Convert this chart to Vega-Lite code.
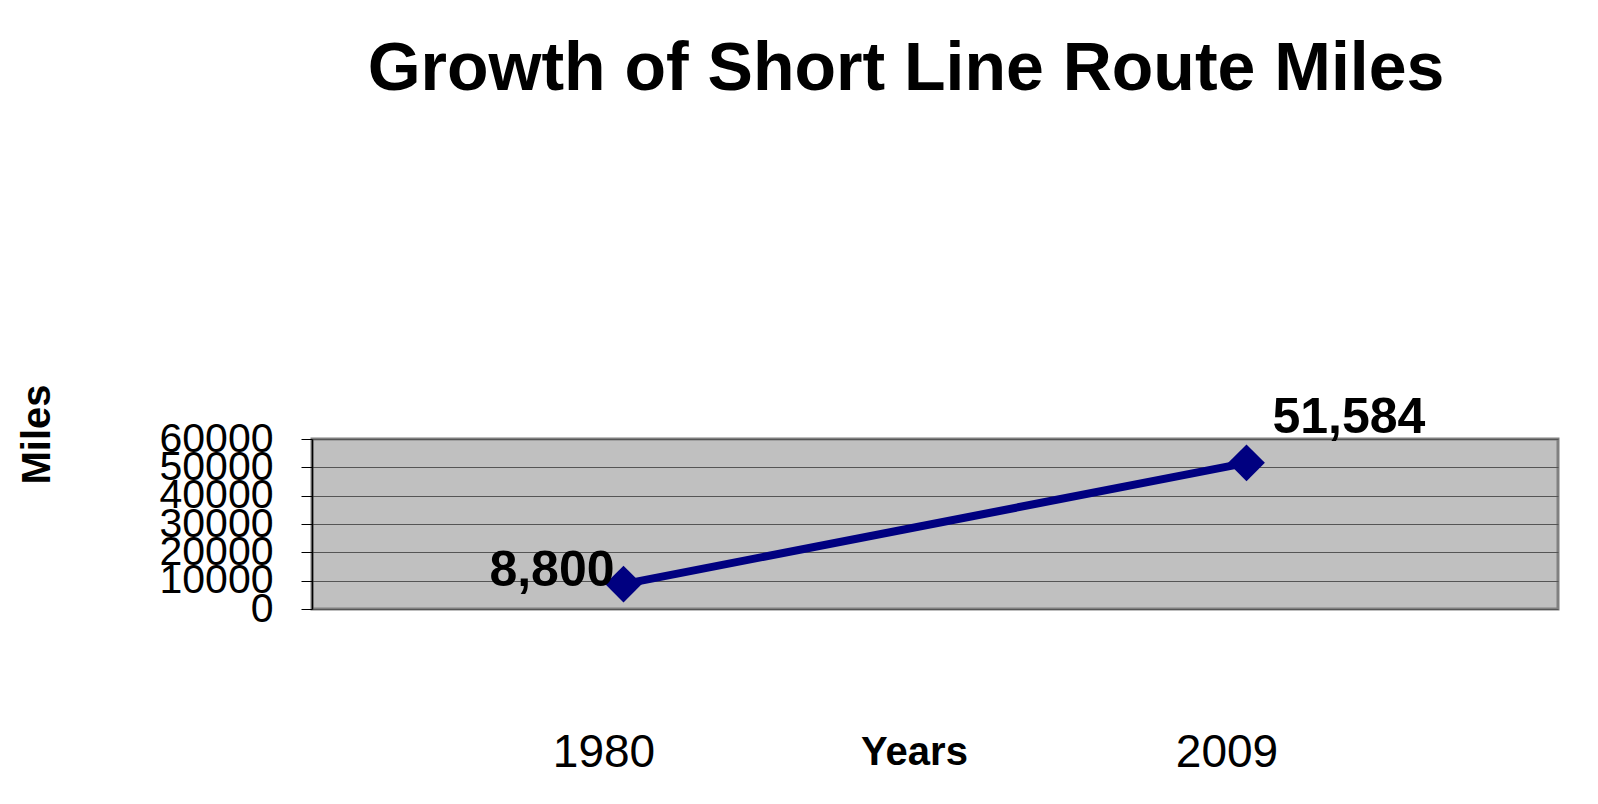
{
  "$schema": "https://vega.github.io/schema/vega-lite/v6.json",
  "autosize": "none",
  "width": 1246,
  "height": 170,
  "padding": {"left": 312, "top": 439, "right": 40, "bottom": 195},
  "background": "white",
  "config": {
    "font": "Liberation Sans",
    "view": {"fill": "#c0c0c0", "stroke": "#808080", "strokeWidth": 3}
  },
  "title": {
    "text": "Growth of Short Line Route Miles",
    "fontSize": 68,
    "fontWeight": "bold",
    "color": "black",
    "anchor": "middle",
    "dx": -29,
    "offset": 280
  },
  "data": {
    "values": [
      {"year": "1980", "miles": 8800},
      {"year": "2009", "miles": 51584}
    ]
  },
  "encoding": {
    "x": {
      "field": "year",
      "type": "ordinal",
      "scale": {"type": "point", "padding": 0.5},
      "axis": {
        "title": "Years",
        "titleFontSize": 40,
        "titleFontWeight": "bold",
        "titleColor": "black",
        "titleX": 602,
        "titleY": 155,
        "titleAlign": "center",
        "titleBaseline": "alphabetic",
        "labelAngle": 0,
        "labelFontSize": 46,
        "labelColor": "black",
        "labelBaseline": "alphabetic",
        "labelPadding": 157,
        "labelOffset": -20,
        "ticks": false,
        "domain": false,
        "grid": false
      }
    },
    "y": {
      "field": "miles",
      "type": "quantitative",
      "scale": {"domain": [0, 60000], "nice": false},
      "axis": {
        "title": "Miles",
        "titleFontSize": 40,
        "titleFontWeight": "bold",
        "titleColor": "black",
        "titleX": -275,
        "titleY": -5,
        "titleAlign": "center",
        "titleBaseline": "middle",
        "titleAngle": -90,
        "values": [0, 10000, 20000, 30000, 40000, 50000, 60000],
        "format": "d",
        "labelFontSize": 41,
        "labelColor": "black",
        "labelPadding": 28,
        "labelOverlap": false,
        "labelFlush": false,
        "tickSize": 11,
        "tickColor": "black",
        "domainColor": "black",
        "domainWidth": 1.5,
        "grid": true,
        "gridColor": "#555555",
        "gridWidth": 1.2
      }
    }
  },
  "layer": [
    {"mark": {"type": "line", "color": "#000080", "strokeWidth": 8}},
    {"mark": {"type": "point", "shape": "diamond", "filled": true, "opacity": 1, "size": 1350, "color": "#000080"}},
    {
      "transform": [{"filter": "datum.year == '1980'"}],
      "mark": {"type": "text", "align": "right", "baseline": "alphabetic", "dx": -9, "dy": 2, "fontSize": 50, "fontWeight": "bold", "color": "black"},
      "encoding": {"text": {"field": "miles", "type": "quantitative", "format": ","}}
    },
    {
      "transform": [{"filter": "datum.year == '2009'"}],
      "mark": {"type": "text", "align": "left", "baseline": "alphabetic", "dx": 26, "dy": -30, "fontSize": 50, "fontWeight": "bold", "color": "black"},
      "encoding": {"text": {"field": "miles", "type": "quantitative", "format": ","}}
    }
  ]
}
